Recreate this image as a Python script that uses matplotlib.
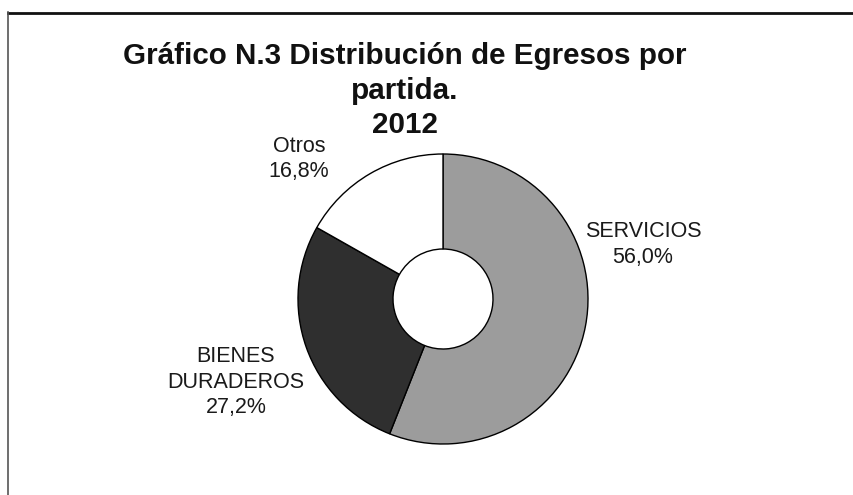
import matplotlib
matplotlib.use("Agg")
import matplotlib.pyplot as plt
from matplotlib.lines import Line2D

# datos del grafico
categorias = ["SERVICIOS", "BIENES\nDURADEROS", "Otros"]
valores = [56.0, 27.2, 16.8]
colores = ["#9c9c9c", "#2f2f2f", "#ffffff"]
titulo = ["Gráfico N.3 Distribución de Egresos por", "partida.", "2012"]

W, H = 854, 495
plt.rcParams['font.family'] = ['Liberation Sans', 'DejaVu Sans']


def py(y):
    # pixel desde arriba -> coordenada de datos
    return H - y


def pct(v):
    return f"{v:.1f}".replace(".", ",") + "%"


fig = plt.figure(figsize=(W / 100, H / 100), dpi=100)
fig.patch.set_facecolor("white")
ax = fig.add_axes([0, 0, 1, 1])
ax.set_xlim(0, W)
ax.set_ylim(0, H)
ax.set_axis_off()

# anillo
r_ext, r_int = 145, 50
ax.pie(valores, colors=colores, startangle=90, counterclock=False,
       center=(443, py(299)), radius=r_ext,
       wedgeprops=dict(width=r_ext - r_int, edgecolor="black", linewidth=1.0))
ax.set_xlim(0, W)
ax.set_ylim(0, H)
ax.set_aspect("equal")

# titulo
for linea, yb in zip(titulo, [64, 99, 133]):
    ax.text(405, py(yb), linea, ha="center", va="baseline",
            fontsize=21.3, fontweight="bold", color="#111111")

# etiquetas (x centro, linea base de la primera fila)
pos_etiquetas = [(643, 237), (236, 362), (299, 152)]
for cat, v, (x, yb) in zip(categorias, valores, pos_etiquetas):
    filas = cat.split("\n") + [pct(v)]
    for i, fila in enumerate(filas):
        ax.text(x, py(yb + i * 25.5), fila, ha="center", va="baseline",
                fontsize=15.5, color="#1a1a1a")

# marco del grafico
fig.add_artist(Line2D([8 / W, 1], [py(12.5) / H, py(12.5) / H],
                      transform=fig.transFigure, color="#111111", lw=2.0))
fig.add_artist(Line2D([8 / W, 8 / W], [py(12) / H, 0],
                      transform=fig.transFigure, color="#555555", lw=1.2))

fig.savefig("out.png", dpi=100, facecolor="white")
